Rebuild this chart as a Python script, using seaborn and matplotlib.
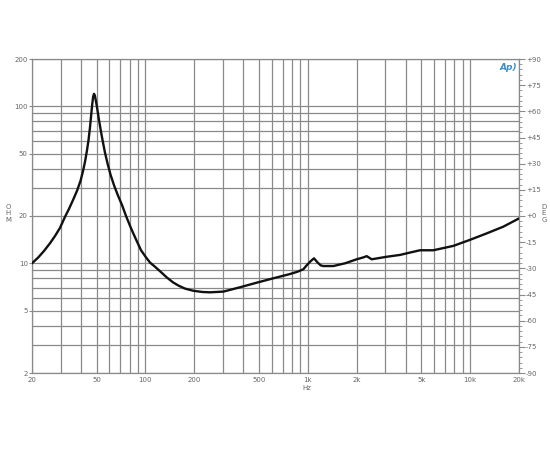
import matplotlib
matplotlib.use("Agg")
import matplotlib.pyplot as plt
import seaborn as sns
import pandas as pd
from matplotlib.ticker import FixedLocator, FixedFormatter, MultipleLocator, NullFormatter

# Impedance curve
freq_hz = [20, 21.8, 23.7, 25.8, 27.7, 29.75, 31.9, 33.8, 35.8, 37.9, 39.8, 41.2,
           42.4, 43.6, 44.6, 45.5, 46.3, 47.0, 47.6, 48.2, 48.8, 49.6, 50.5,
           51.7, 53.2, 54.7, 56.3, 58.4, 60.9, 64.0, 67.7, 71.7, 75.9, 81.5,
           87.4, 93.9, 100.8, 106.7, 114.5, 122.9, 134.8, 148, 160, 175, 197,
           225, 250, 302, 382, 484, 613, 777, 860, 938, 984, 1040, 1092, 1150,
           1200, 1246, 1436, 1700, 2000, 2200, 2306, 2476, 3062, 3698, 4262,
           4912, 5932, 7878, 9980, 12650, 16000, 20000]
impedance_ohm = [10.0, 10.86, 11.97, 13.4, 14.9, 16.8, 19.7, 22.2, 25.3, 29.0,
                 33.5, 38.5, 44.2, 52.2, 61.0, 73.0, 88.0, 103.0, 115.0, 120.0,
                 117.0, 107.0, 96.0, 82.0, 69.0, 59.0, 50.7, 43.2, 36.7, 31.4,
                 27.0, 23.5, 20.0, 16.7, 14.2, 12.1, 10.9, 10.1, 9.5, 8.9, 8.15,
                 7.55, 7.2, 6.9, 6.68, 6.56, 6.53, 6.6, 7.03, 7.52, 8.02, 8.54,
                 8.82, 9.15, 9.7, 10.3, 10.75, 10.1, 9.7, 9.6, 9.6, 10.0, 10.6,
                 10.9, 11.1, 10.6, 11.0, 11.3, 11.7, 12.1, 12.1, 12.9, 14.1, 15.5,
                 17.1, 19.3]

x_ticks = [20, 50, 100, 200, 500, 1000, 2000, 5000, 10000, 20000]
x_labels = ["20", "50", "100", "200", "500", "1k", "2k", "5k", "10k", "20k"]
x_minor = [30, 40, 60, 70, 80, 90, 300, 400, 600, 700, 800, 900,
           3000, 4000, 6000, 7000, 8000, 9000]
y_ticks = [2, 5, 10, 20, 50, 100, 200]
y_labels = ["2", "5", "10", "20", "50", "100", "200"]
y_minor = [3, 4, 6, 7, 8, 9, 30, 40, 60, 70, 80, 90]
deg_ticks = list(range(-90, 91, 15))
deg_labels = [("+%d" % d) if d >= 0 else ("%d" % d) for d in deg_ticks]

sns.set_style("white")
plt.rcParams['font.family'] = ['DejaVu Sans']

df = pd.DataFrame({"Hz": freq_hz, "Ohm": impedance_ohm})

fig = plt.figure(figsize=(5.5, 4.5), dpi=100)
ax = fig.add_axes([32/550, 1-373/450, 487/550, 314/450])

gcol = "#8a8a8a"
tcol = "#666666"

sns.lineplot(data=df, x="Hz", y="Ohm", ax=ax, color="#111111", linewidth=1.7,
             zorder=5, sort=False)

ax.set_xscale("log")
ax.set_yscale("log")
ax.set_xlim(20, 20000)
ax.set_ylim(2, 200)

ax.xaxis.set_major_locator(FixedLocator(x_ticks))
ax.xaxis.set_major_formatter(FixedFormatter(x_labels))
ax.xaxis.set_minor_locator(FixedLocator(x_minor))
ax.xaxis.set_minor_formatter(NullFormatter())
ax.yaxis.set_major_locator(FixedLocator(y_ticks))
ax.yaxis.set_major_formatter(FixedFormatter(y_labels))
ax.yaxis.set_minor_locator(FixedLocator(y_minor))
ax.yaxis.set_minor_formatter(NullFormatter())

ax.grid(True, which="both", color=gcol, linewidth=0.9)
ax.tick_params(axis="both", which="major", labelsize=5, labelcolor=tcol,
               color=gcol, length=2, width=0.8, pad=1)
ax.tick_params(axis="both", which="minor", length=0)
ax.set_xlabel("")
ax.set_ylabel("")
for s in ax.spines.values():
    s.set_color(gcol)
    s.set_linewidth(0.9)

ax2 = ax.twinx()
ax2.set_ylim(-90, 90)
ax2.yaxis.set_major_locator(FixedLocator(deg_ticks))
ax2.yaxis.set_major_formatter(FixedFormatter(deg_labels))
ax2.yaxis.set_minor_locator(MultipleLocator(3))
ax2.tick_params(axis="y", which="major", labelsize=5, labelcolor=tcol,
                color=gcol, length=4, width=0.8, pad=1)
ax2.tick_params(axis="y", which="minor", color=gcol, length=2, width=0.6)
ax2.grid(False)
for s in ax2.spines.values():
    s.set_visible(False)

fig.text(307/550, 1-388/450, "Hz", fontsize=5, color=tcol, ha="center", va="center")
fig.text(8/550, 1-213/450, "O\nH\nM", fontsize=5, color=tcol, ha="center",
         va="center", linespacing=1.1)
fig.text(544/550, 1-213/450, "D\nE\nG", fontsize=5, color=tcol, ha="center",
         va="center", linespacing=1.1)
fig.text(508/550, 1-68/450, "Ap)", fontsize=6.5, color="#3a8fc8", ha="center",
         va="center", style="italic", fontweight="bold")

fig.savefig("out.png", dpi=100)
